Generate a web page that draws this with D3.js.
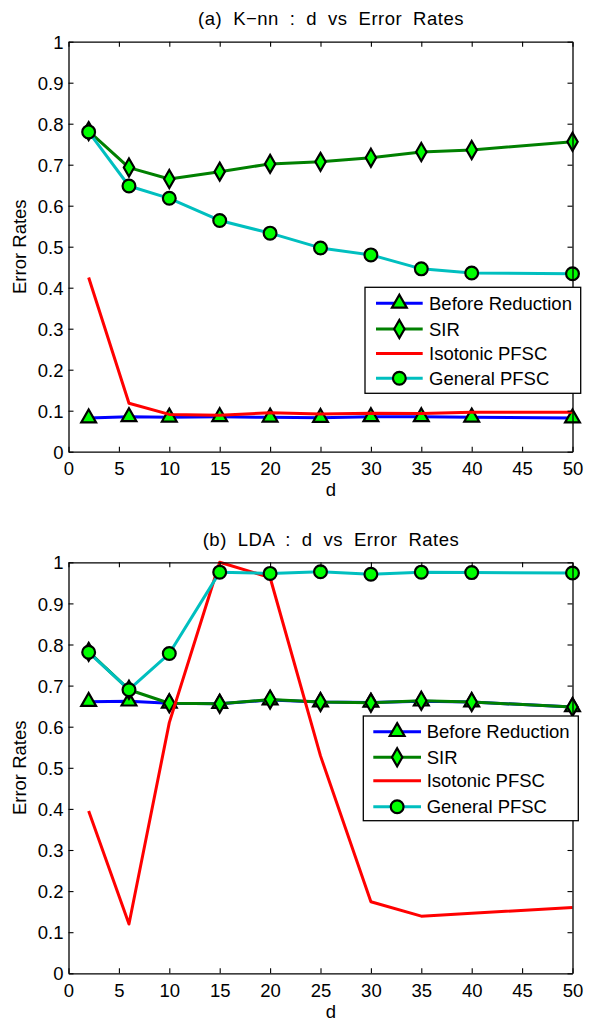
<!DOCTYPE html>
<html>
<head>
<meta charset="utf-8">
<script src="https://cdn.jsdelivr.net/npm/d3@7"></script>
<style>
  html, body { margin: 0; padding: 0; background: #fff; }
  svg { display: block; }
  text { font-family: "Liberation Sans", Arial, sans-serif; fill: #000; }
</style>
</head>
<body>
<div id="chart"></div>
<script>
// Number of reduced dimensions d
const dValues = [2, 6, 10, 15, 20, 25, 30, 35, 40, 50];

// (a) K-nn error rates
const knnBefore   = [0.082, 0.085, 0.084, 0.085, 0.084, 0.083, 0.085, 0.085, 0.084, 0.082];
const knnSIR      = [0.782, 0.693, 0.665, 0.683, 0.702, 0.707, 0.717, 0.731, 0.736, 0.756];
const knnIsotonic = [0.425, 0.118, 0.091, 0.089, 0.095, 0.092, 0.094, 0.093, 0.096, 0.096];
const knnGeneral  = [0.780, 0.648, 0.618, 0.564, 0.533, 0.497, 0.480, 0.446, 0.436, 0.434];

// (b) LDA error rates
const ldaBefore   = [0.661, 0.662, 0.657, 0.656, 0.665, 0.660, 0.659, 0.662, 0.660, 0.648];
const ldaSIR      = [0.782, 0.690, 0.657, 0.656, 0.666, 0.660, 0.658, 0.663, 0.660, 0.648];
const ldaIsotonic = [0.395, 0.120, 0.610, 1.000, 0.963, 0.529, 0.174, 0.139, 0.146, 0.160];
const ldaGeneral  = [0.781, 0.690, 0.778, 0.976, 0.973, 0.977, 0.971, 0.976, 0.975, 0.974];

const seriesNames = ["Before Reduction", "SIR", "Isotonic PFSC", "General PFSC"];
const xTicks = [0, 5, 10, 15, 20, 25, 30, 35, 40, 45, 50];
const yTicks = [0, 0.1, 0.2, 0.3, 0.4, 0.5, 0.6, 0.7, 0.8, 0.9, 1];
const yTickLabels = ["0", "0.1", "0.2", "0.3", "0.4", "0.5", "0.6", "0.7", "0.8", "0.9", "1"];

// Line colour and marker shape per series
const styles = [
  { color: "#0000ff", marker: "triangle" },
  { color: "#008000", marker: "diamond" },
  { color: "#ff0000", marker: null },
  { color: "#00bfbf", marker: "circle" }
];

const W = 604, H = 1024;
const svg = d3.select("#chart").append("svg")
  .attr("width", W).attr("height", H);
svg.append("rect").attr("width", W).attr("height", H).attr("fill", "#fff");

const FONT = 18.5;
const LINE_W = 3;

function markerPath(type) {
  if (type === "triangle") return "M0,-8.6L7.4,4.3L-7.4,4.3Z";
  if (type === "diamond") return "M0,-9L5.2,0L0,9L-5.2,0Z";
  return null;
}

function drawMarker(g, type, x, y) {
  if (!type) return;
  if (type === "circle") {
    g.append("circle").attr("cx", x).attr("cy", y).attr("r", 6.4)
      .attr("fill", "#00ff00").attr("stroke", "#000").attr("stroke-width", 2.2);
  } else {
    g.append("path").attr("d", markerPath(type))
      .attr("transform", `translate(${x},${y})`)
      .attr("fill", "#00ff00").attr("stroke", "#000").attr("stroke-width", 2.2)
      .attr("stroke-linejoin", "miter");
  }
}

function panel(opts) {
  const { top, bottom, title, data, legend } = opts;
  const left = 68.5, right = 572.5;
  const x = d3.scaleLinear().domain([0, 50]).range([left, right]);
  const y = d3.scaleLinear().domain([0, 1]).range([bottom, top]);
  const g = svg.append("g");
  const labelCx = 331;

  // Series: line then its markers, in legend order
  data.forEach((vals, i) => {
    const st = styles[i];
    const pts = dValues.map((d, k) => [x(d), y(vals[k])]);
    g.append("path")
      .attr("d", d3.line()(pts))
      .attr("fill", "none")
      .attr("stroke", st.color)
      .attr("stroke-width", LINE_W)
      .attr("stroke-linejoin", "round");
    pts.forEach(p => drawMarker(g, st.marker, p[0], p[1]));
  });

  // Axes box with inward ticks
  const axG = svg.append("g");
  const xAxisB = d3.axisBottom(x).tickValues(xTicks).tickSizeInner(-5).tickSizeOuter(0)
    .tickFormat(d3.format("d"));
  const xb = axG.append("g").attr("transform", `translate(0,${bottom})`).call(xAxisB);
  const xAxisT = d3.axisTop(x).tickValues(xTicks).tickSizeInner(-5).tickSizeOuter(0).tickFormat("");
  axG.append("g").attr("transform", `translate(0,${top})`).call(xAxisT);
  const yAxisL = d3.axisLeft(y).tickValues(yTicks).tickSizeInner(-5).tickSizeOuter(0)
    .tickFormat((d, i) => yTickLabels[i]);
  const yl = axG.append("g").attr("transform", `translate(${left},0)`).call(yAxisL);
  const yAxisR = d3.axisRight(y).tickValues(yTicks).tickSizeInner(-5).tickSizeOuter(0).tickFormat("");
  axG.append("g").attr("transform", `translate(${right},0)`).call(yAxisR);

  axG.selectAll(".domain").attr("stroke", "#000").attr("stroke-width", 1.3);
  axG.selectAll(".tick line").attr("stroke", "#000").attr("stroke-width", 1.1);
  axG.selectAll("text")
    .attr("font-family", '"Liberation Sans", Arial, sans-serif')
    .attr("font-size", FONT).attr("fill", "#000");
  xb.selectAll(".tick text").attr("dy", null).attr("y", 23.3);
  yl.selectAll(".tick text").attr("dy", "0.36em").attr("x", -5);

  // Title
  svg.append("text")
    .attr("x", labelCx).attr("y", top - 16.5)
    .attr("text-anchor", "middle")
    .attr("font-size", FONT)
    .style("letter-spacing", "0.5px")
    .style("word-spacing", "5.3px")
    .text(title);

  // Axis labels
  svg.append("text")
    .attr("x", labelCx).attr("y", bottom + 44.3)
    .attr("text-anchor", "middle").attr("font-size", FONT)
    .text("d");
  svg.append("text")
    .attr("transform", `translate(26,${(top + bottom) / 2}) rotate(-90)`)
    .attr("text-anchor", "middle").attr("font-size", FONT)
    .text("Error Rates");

  // Legend
  const lg = svg.append("g");
  lg.append("rect")
    .attr("x", legend.x0).attr("y", legend.y0)
    .attr("width", legend.x1 - legend.x0).attr("height", legend.y1 - legend.y0)
    .attr("fill", "#fff").attr("stroke", "#000").attr("stroke-width", 1.3);
  seriesNames.forEach((name, i) => {
    const cy = legend.rows[i];
    const st = styles[i];
    lg.append("line")
      .attr("x1", legend.lx0).attr("x2", legend.lx1)
      .attr("y1", cy).attr("y2", cy)
      .attr("stroke", st.color).attr("stroke-width", LINE_W);
    drawMarker(lg, st.marker, (legend.lx0 + legend.lx1) / 2, cy);
    lg.append("text")
      .attr("x", legend.tx).attr("y", cy + 6.5)
      .attr("font-size", FONT)
      .text(name);
  });
}

panel({
  top: 41.7, bottom: 451.7,
  title: "(a) K\u2212nn : d vs Error Rates",
  data: [knnBefore, knnSIR, knnIsotonic, knnGeneral],
  legend: { x0: 365, y0: 287.3, x1: 580.7, y1: 393.3,
            rows: [303.3, 329, 353.6, 378.3], lx0: 376, lx1: 422.7, tx: 429 }
});

panel({
  top: 562.3, bottom: 973.3,
  title: "(b) LDA : d vs Error Rates",
  data: [ldaBefore, ldaSIR, ldaIsotonic, ldaGeneral],
  legend: { x0: 363.3, y0: 716, x1: 578.3, y1: 820.7,
            rows: [731.7, 757.3, 780.7, 806.7], lx0: 373.3, lx1: 421, tx: 426.7 }
});
</script>
</body>
</html>
